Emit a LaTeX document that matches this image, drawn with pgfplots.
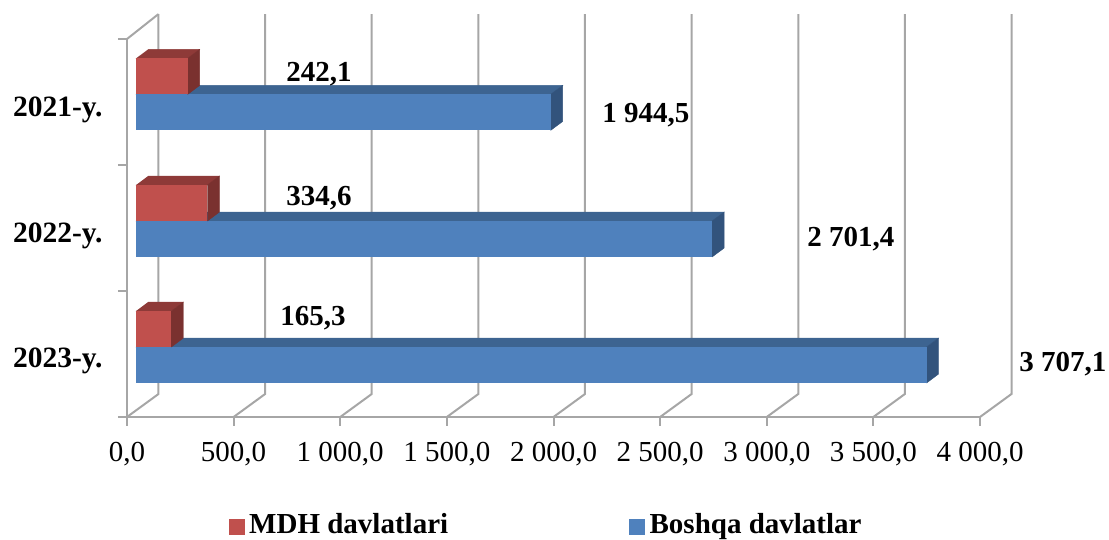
\documentclass[border=0pt]{standalone}
\usepackage{fontspec}
\setmainfont{Liberation Serif}
\usepackage{pgfplots}
\pgfplotsset{compat=1.18}
\definecolor{gridc}{HTML}{A6A6A6}
\definecolor{redF}{HTML}{C0504D}
\definecolor{redT}{HTML}{8E3A38}
\definecolor{redS}{HTML}{7A312F}
\definecolor{bluF}{HTML}{4F81BD}
\definecolor{bluT}{HTML}{3D6491}
\definecolor{bluS}{HTML}{32537C}
\newcommand{\fs}{\fontsize{29}{32}\selectfont}
\pgfplotsset{
  wall/.style={gridc,line width=2pt,mark=none,forget plot,line join=miter},
  face/.style={fill=#1,draw=#1,line width=0.4pt,mark=none,forget plot,xshift=9pt},
  front/.style={xbar,bar width=36pt,fill=#1,draw=none,forget plot,xshift=9pt},
}
\begin{document}
\begin{tikzpicture}[x=1pt,y=1pt]
\path[use as bounding box] (0,0) rectangle (1109pt,540pt);
\begin{axis}[
  at={(127pt,123pt)},anchor=south west,
  scale only axis,width=853pt,height=378pt,
  xmin=0,xmax=4000,ymin=0,ymax=3,
  clip=false,
  axis lines=left,
  axis line style={-,gridc,line width=2pt},
  tick style={gridc,line width=2pt},
  tick align=outside,
  major tick length=9pt,
  xtick={0,500,1000,1500,2000,2500,3000,3500,4000},
  xticklabels={{0,0},{500,0},{1 000,0},{1 500,0},{2 000,0},{2 500,0},{3 000,0},{3 500,0},{4 000,0}},
  xticklabel style={font=\fs,yshift=-13pt,text=black},
  ytick={0,1,2,3},
  yticklabels={},
  extra y ticks={0.445,1.435,2.435},
  extra y tick labels={\textbf{2023-y.},\textbf{2022-y.},\textbf{2021-y.}},
  extra y tick style={major tick length=0pt,tick style={draw=none},
    yticklabel style={font=\fontsize{29.5}{32}\selectfont,text=black,xshift=-21pt}},
  legend columns=2,
  legend style={draw=none,fill=none,font=\fs\bfseries,at={(102pt,-118.5pt)},anchor=south west,
    inner sep=0pt,outer sep=0pt,nodes={inner sep=0pt}},
  legend cell align=left,
]
% legend
\addlegendimage{legend image code/.code={\fill[redF](0pt,-9.5pt) rectangle (15pt,5.5pt);}}
\addlegendentry{\makebox[385pt][l]{\,MDH davlatlari}}
\addlegendimage{legend image code/.code={\fill[bluF](0pt,-9.5pt) rectangle (15pt,5.5pt);}}
\addlegendentry{\,Boshqa davlatlar}
% wall and floor lines
\addplot[wall] coordinates {(0,3)(147.7,3.198)};
\addplot[wall] coordinates {(0,0)(147.7,.1825)(147.7,3.198)};
\addplot[wall] coordinates {(500,0)(647.7,.1825)(647.7,3.198)};
\addplot[wall] coordinates {(1000,0)(1147.7,.1825)(1147.7,3.198)};
\addplot[wall] coordinates {(1500,0)(1647.7,.1825)(1647.7,3.198)};
\addplot[wall] coordinates {(2000,0)(2147.7,.1825)(2147.7,3.198)};
\addplot[wall] coordinates {(2500,0)(2647.7,.1825)(2647.7,3.198)};
\addplot[wall] coordinates {(3000,0)(3147.7,.1825)(3147.7,3.198)};
\addplot[wall] coordinates {(3500,0)(3647.7,.1825)(3647.7,3.198)};
\addplot[wall] coordinates {(4000,0)(4147.7,.1825)(4147.7,3.198)};
% 2021
\addplot[face=bluT] coordinates {(0,2.56)(1944.5,2.56)(2000.8,2.6314)(56.3,2.6314)};
\addplot[face=bluS] coordinates {(1944.5,2.2743)(2000.8,2.3457)(2000.8,2.6314)(1944.5,2.56)};
\addplot[front=bluF,bar shift=-18pt] coordinates {(1944.5,2.56)};
\addplot[face=redT] coordinates {(0,2.8457)(242.1,2.8457)(298.4,2.9171)(56.3,2.9171)};
\addplot[face=redS] coordinates {(242.1,2.56)(298.4,2.6314)(298.4,2.9171)(242.1,2.8457)};
\addplot[front=redF,bar shift=18pt] coordinates {(242.1,2.56)};
% 2022
\addplot[face=bluT] coordinates {(0,1.555)(2701.4,1.555)(2757.7,1.6264)(56.3,1.6264)};
\addplot[face=bluS] coordinates {(2701.4,1.2693)(2757.7,1.3407)(2757.7,1.6264)(2701.4,1.555)};
\addplot[front=bluF,bar shift=-18pt] coordinates {(2701.4,1.555)};
\addplot[face=redT] coordinates {(0,1.8407)(334.6,1.8407)(390.9,1.9121)(56.3,1.9121)};
\addplot[face=redS] coordinates {(334.6,1.555)(390.9,1.6264)(390.9,1.9121)(334.6,1.8407)};
\addplot[front=redF,bar shift=18pt] coordinates {(334.6,1.555)};
% 2023
\addplot[face=bluT] coordinates {(0,.555)(3707.1,.555)(3763.4,.6264)(56.3,.6264)};
\addplot[face=bluS] coordinates {(3707.1,.2693)(3763.4,.3407)(3763.4,.6264)(3707.1,.555)};
\addplot[front=bluF,bar shift=-18pt] coordinates {(3707.1,.555)};
\addplot[face=redT] coordinates {(0,.8407)(165.3,.8407)(221.6,.9121)(56.3,.9121)};
\addplot[face=redS] coordinates {(165.3,.555)(221.6,.6264)(221.6,.9121)(165.3,.8407)};
\addplot[front=redF,bar shift=18pt] coordinates {(165.3,.555)};
% value labels
\begin{scope}[every node/.style={font=\fs\bfseries,anchor=base,inner sep=0pt}]
\node at (axis cs:900.4,2.659) {242,1};
\node at (axis cs:2433,2.341) {1 944,5};
\node at (axis cs:900.4,1.675) {334,6};
\node at (axis cs:3395,1.357) {2 701,4};
\node at (axis cs:872,.730) {165,3};
\node at (axis cs:4389,.365) {3 707,1};
\end{scope}
\end{axis}
\end{tikzpicture}
\end{document}
